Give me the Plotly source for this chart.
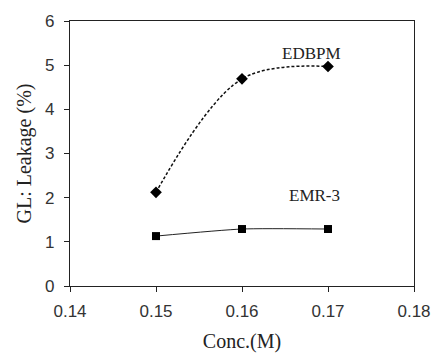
import plotly.graph_objects as go

conc = [0.15, 0.16, 0.17]
edbpm = [2.12, 4.69, 4.97]
emr3 = [1.13, 1.29, 1.29]
x_ticks = [0.14, 0.15, 0.16, 0.17, 0.18]
x_tick_labels = ["0.14", "0.15", "0.16", "0.17", "0.18"]
y_ticks = [0, 1, 2, 3, 4, 5, 6]

fig = go.Figure()
fig.add_trace(go.Scatter(
    x=conc, y=edbpm, mode="lines+markers", name="EDBPM",
    line=dict(color="#111", width=1.5, dash="3px,2px", shape="spline", smoothing=1.0),
    marker=dict(symbol="diamond", size=9, color="black"),
))
fig.add_trace(go.Scatter(
    x=conc, y=emr3, mode="lines+markers", name="EMR-3",
    line=dict(color="#222", width=1, shape="spline", smoothing=0.6),
    marker=dict(symbol="square", size=8, color="black"),
))

fig.add_annotation(x=0.1681, y=5.27, text="EDBPM", showarrow=False,
                   font=dict(family="Liberation Serif", size=17, color="#222"))
fig.add_annotation(x=0.1684, y=2.06, text="EMR-3", showarrow=False,
                   font=dict(family="Liberation Serif", size=17, color="#222"))

fig.update_layout(
    width=443, height=361,
    margin=dict(l=70, r=21, t=18, b=68),
    paper_bgcolor="white", plot_bgcolor="white",
    showlegend=False,
    font=dict(family="Liberation Sans", size=17, color="#333"),
)
fig.update_xaxes(
    range=[0.14, 0.18], tickvals=x_ticks, ticktext=x_tick_labels,
    showgrid=False, zeroline=False,
    showline=True, linecolor="#222", linewidth=1.2, mirror=True,
    ticks="outside", ticklen=5, tickcolor="#222", ticklabelstandoff=4,
    title=dict(text="Conc.(M)", font=dict(family="Liberation Serif", size=20, color="#222"), standoff=14),
)
fig.update_yaxes(
    range=[0, 6], tickvals=y_ticks,
    showgrid=False, zeroline=False,
    showline=True, linecolor="#222", linewidth=1.2, mirror=True,
    ticks="outside", ticklen=5, tickcolor="#222", ticklabelstandoff=6,
    title=dict(text="GL: Leakage (%)", font=dict(family="Liberation Serif", size=20, color="#222"), standoff=8),
)

fig.write_html("out.html")
